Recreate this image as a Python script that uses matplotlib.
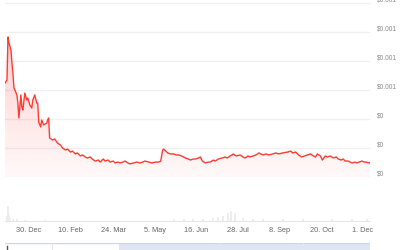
import matplotlib
matplotlib.use("Agg")
import matplotlib.pyplot as plt
import matplotlib.dates as mdates
import numpy as np
from matplotlib.colors import LinearSegmentedColormap
from matplotlib.transforms import ScaledTranslation

plt.rcParams["font.family"] = ["Liberation Sans", "DejaVu Sans"]

start_date = np.datetime64("2023-12-06")

# days since start, price in 1e-4 USD
days = [0, 2, 3, 4, 6, 7, 8, 9, 10, 12, 13, 14, 16, 17, 18, 20, 22, 23, 25, 27,
        28, 30, 32, 33, 34, 36, 37, 39, 42, 43, 44, 45, 48, 50, 53, 56, 58, 61,
        63, 66, 68, 71, 73, 76, 78, 81, 83, 86, 88, 91, 94, 96, 99, 101, 104,
        106, 109, 111, 114, 116, 119, 121, 124, 126, 130, 133, 136, 139, 141,
        145, 148, 152, 155, 157, 159, 160, 162, 164, 167, 170, 173, 175, 178,
        182, 185, 187, 190, 192, 195, 197, 199, 202, 205, 207, 210, 212, 215,
        219, 222, 224, 227, 229, 230, 233, 237, 240, 242, 245, 247, 250, 253,
        256, 260, 263, 266, 270, 273, 276, 280, 285, 288, 290, 293, 296, 299,
        302, 305, 308, 311, 313, 315, 318, 320, 323, 325, 328, 331, 334, 336,
        339, 341, 343, 346, 348, 350, 353, 355, 357, 360, 362, 364, 367, 369]
price = [6.48, 6.69, 9.66, 9.24, 8.76, 7.86, 7.17, 6.14, 6.00, 5.66, 5.10, 4.07,
         5.66, 4.83, 4.62, 5.79, 5.31, 5.45, 4.97, 4.76, 5.31, 5.66, 5.10, 5.10,
         3.79, 3.45, 3.93, 3.59, 3.72, 3.93, 4.07, 2.69, 2.55, 2.62, 2.34, 2.20,
         2.00, 1.86, 1.93, 1.72, 1.79, 1.59, 1.66, 1.45, 1.52, 1.38, 1.31, 1.38,
         1.24, 1.10, 1.17, 1.03, 1.24, 1.10, 1.17, 1.03, 1.10, 0.97, 1.03, 0.97,
         1.03, 1.10, 0.97, 0.90, 0.97, 1.03, 0.97, 1.03, 1.10, 1.03, 0.97, 1.03,
         1.03, 1.10, 1.86, 1.93, 1.79, 1.66, 1.59, 1.59, 1.52, 1.52, 1.45, 1.31,
         1.24, 1.17, 1.24, 1.24, 1.31, 1.38, 1.10, 0.97, 1.03, 1.03, 1.17, 1.10,
         1.24, 1.31, 1.38, 1.31, 1.45, 1.52, 1.59, 1.45, 1.52, 1.38, 1.31, 1.45,
         1.38, 1.45, 1.52, 1.66, 1.52, 1.59, 1.52, 1.59, 1.66, 1.59, 1.66, 1.72,
         1.79, 1.66, 1.72, 1.52, 1.38, 1.45, 1.52, 1.59, 1.45, 1.38, 1.59, 1.45,
         1.17, 1.45, 1.38, 1.45, 1.31, 1.38, 1.24, 1.17, 1.24, 1.10, 1.10, 1.03,
         0.97, 1.03, 0.97, 1.03, 1.10, 1.03, 1.03, 0.97, 1.03]
price = [p * 1e-4 for p in price]

vol_days = [2, 3, 4, 5, 8, 12, 20, 40, 60, 100, 170, 180, 190, 200, 210, 215,
            220, 225, 228, 232, 240, 250, 260, 280, 300, 330, 350, 365]
volume = [3, 9, 4, 2, 1, 1, 0.5, 0.5, 0.3, 0.3, 1, 1.5, 1.5, 1.5, 2, 2.5,
          3, 5, 6, 5, 2, 1.5, 1.5, 1, 1, 1, 1.2, 1.5]

tick_dates = ["2023-12-30", "2024-02-10", "2024-03-24", "2024-05-05",
              "2024-06-16", "2024-07-28", "2024-09-08", "2024-10-20", "2024-12-01"]
tick_labels = ["30. Dec", "10. Feb", "24. Mar", "5. May", "16. Jun",
               "28. Jul", "8. Sep", "20. Oct", "1. Dec"]
y_ticks = [0, 0.0002, 0.0004, 0.0006, 0.0008, 0.0010, 0.0012]

dates = start_date + np.array(days).astype("timedelta64[D]")
vdates = start_date + np.array(vol_days).astype("timedelta64[D]")
x0 = start_date
x1 = start_date + np.timedelta64(368, "D")

W, H = 400, 250
fig = plt.figure(figsize=(4, 2.5), dpi=100)


def box(l, t, r, b):
    return [l / W, 1 - b / H, (r - l) / W, (b - t) / H]


line_col = "#ff3a33"
grid_col = "#f0f0f0"

ax = fig.add_axes(box(5, 0, 370, 177))
ymax = 0.0012 * 177 / 174
ax.set_xlim(x0, x1)
ax.set_ylim(0, ymax)
ax.plot(dates, price, color=line_col, lw=1.0, zorder=3)
poly = ax.fill_between(dates, price, 0, color="none", lw=0)
cmap = LinearSegmentedColormap.from_list(
    "g", [(1, 0.23, 0.2, 0.03), (1, 0.23, 0.2, 0.30)])
grad = np.linspace(0, 1, 256).reshape(-1, 1)
im = ax.imshow(grad, cmap=cmap, aspect="auto", origin="lower",
               extent=[mdates.date2num(x0), mdates.date2num(x1), 0, ymax],
               zorder=2)
im.set_clip_path(poly.get_paths()[0], transform=ax.transData)
ax.set_yticks(y_ticks)
ax.set_yticklabels([f"${round(v, 3):g}" for v in y_ticks])
ax.yaxis.tick_right()
ax.tick_params(axis="y", length=0, pad=5, labelsize=4.8, labelcolor="#8a8a8a")
for lab in ax.get_yticklabels():
    lab.set_transform(lab.get_transform()
                      + ScaledTranslation(0, 3 / 72, fig.dpi_scale_trans))
ax.grid(axis="y", color=grid_col, lw=1)
ax.set_xticks([])
for s in ax.spines.values():
    s.set_visible(False)

axv = fig.add_axes(box(5, 188, 370, 221))
axv.set_xlim(x0, x1)
axv.set_ylim(0, 20)
axv.bar(vdates, volume, width=2, color="#ededed", lw=0)
axv.set_yticks([])
axv.set_xticks(np.array(tick_dates, dtype="datetime64[D]"))
axv.set_xticklabels(tick_labels)
axv.tick_params(axis="x", length=0, pad=4, labelsize=5.3, labelcolor="#666666")
for name, s in axv.spines.items():
    s.set_visible(name == "bottom")
axv.spines["bottom"].set_color("#e6e6e6")

axn = fig.add_axes(box(5, 243, 370, 252))
axn.set_xlim(0, 1)
axn.set_ylim(0, 1)
axn.axvspan(0.312, 1, color="#dfe5f2", lw=0)
axn.axhline(1, color="#ccd6eb", lw=1)
for xv in [0.129, 0.587, 0.817]:
    axn.axvline(xv, color="#e6e6e6", lw=0.8)
axn.plot([0.006, 0.006], [0.0, 0.7], color="#555555", lw=1)
axn.axis("off")

fig.savefig("out.png", dpi=100)
